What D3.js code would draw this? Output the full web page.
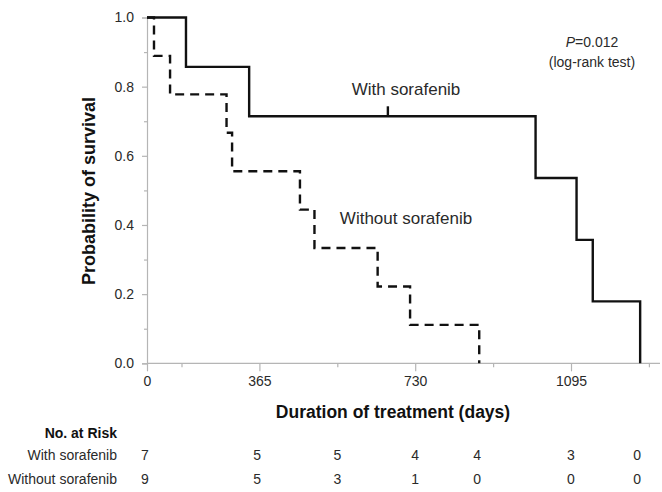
<!DOCTYPE html>
<html>
<head>
<meta charset="utf-8">
<script src="https://cdn.jsdelivr.net/npm/d3@7"></script>
<style>
  body { margin: 0; background: #fff; }
  svg { font-family: Arial, "Liberation Sans", Helvetica, sans-serif; }
</style>
</head>
<body>
<svg width="662" height="492"></svg>
<script>
// Kaplan-Meier data (days, survival)
const withSorafenib = [
    [0, 1], [193, 6 / 7], [341, 5 / 7], [1012, 0.536], [1108, 0.357], [1146, 0.179], [1257, 0]
];
const withoutSorafenib = [
    [0, 1], [37, 8 / 9], [122, 7 / 9], [288, 6 / 9], [301, 5 / 9], [460, 4 / 9],
    [494, 3 / 9], [642, 2 / 9], [718, 1 / 9], [880, 0]
];
const censoredWith = [[666, 5 / 7]];

// axis ticks
const xTicks = [0, 365, 730, 1095];
const xMinorTicks = [182.5, 547.5, 912.5, 1277.5];
const yTicks = [0, 0.2, 0.4, 0.6, 0.8, 1.0];
const yMinorTicks = [0.1, 0.3, 0.5, 0.7, 0.9];

// number at risk table
const riskDays = [0, 360, 547.5, 730, 875, 1095, 1250];
const riskGroups = ['With sorafenib', 'Without sorafenib'];
const riskWith = [7, 5, 5, 4, 4, 3, 0];
const riskWithout = [9, 5, 3, 1, 0, 0, 0];

const svg = d3.select('svg');
const axisColor = '#b5b5b5';
const textColor = '#2a2a2a';

// x scale: the original axis is not uniform before the first minor tick
const pxPerDay = 77.9 / 182.5;
const x = d3.scaleLinear()
    .domain([0, 182.5, 1460])
    .range([147, 181.5, 181.5 + (1460 - 182.5) * pxPerDay]);
const y = d3.scaleLinear().domain([0, 1]).range([363.3, 17.5]);

// y axis
const gy = svg.append('g').attr('transform', `translate(${x(0)},0)`);
gy.call(d3.axisLeft(y).tickValues(yTicks).tickSize(5).tickPadding(8).tickFormat(d3.format('.1f')));
gy.append('g').call(d3.axisLeft(y).tickValues(yMinorTicks).tickSize(3).tickFormat(''))
    .select('.domain').remove();

// x axis
const gx = svg.append('g').attr('transform', `translate(0,${y(0)})`);
gx.call(d3.axisBottom(x).tickValues(xTicks).tickSize(8).tickPadding(5).tickFormat(d3.format('d')));
gx.append('g').call(d3.axisBottom(x).tickValues(xMinorTicks).tickSize(4).tickFormat(''))
    .select('.domain').remove();
gx.select('.domain').attr('d', `M${x(0)},0H660`);

svg.selectAll('.domain, .tick line').attr('stroke', axisColor).attr('stroke-width', 1.2);
svg.selectAll('.tick text')
    .attr('fill', textColor)
    .style('font-size', '14px')
    .style('font-family', 'Arial, "Liberation Sans", sans-serif');

// curves
const line = d3.line()
    .x((d) => x(d[0]))
    .y((d) => y(d[1]))
    .curve(d3.curveStepAfter);

svg.append('path')
    .datum(withoutSorafenib)
    .attr('d', line)
    .attr('fill', 'none')
    .attr('stroke', '#111')
    .attr('stroke-width', 2.4)
    .attr('stroke-dasharray', '9,6');

svg.append('path')
    .datum(withSorafenib)
    .attr('d', line)
    .attr('fill', 'none')
    .attr('stroke', '#111')
    .attr('stroke-width', 2.4);

// censor marks
svg.selectAll('.censor')
    .data(censoredWith)
    .enter()
    .append('line')
    .attr('class', 'censor')
    .attr('x1', (d) => x(d[0]))
    .attr('x2', (d) => x(d[0]))
    .attr('y1', (d) => y(d[1]))
    .attr('y2', (d) => y(d[1]) - 10)
    .attr('stroke', '#111')
    .attr('stroke-width', 2.4);

// curve labels
svg.append('text')
    .attr('x', 406).attr('y', 95)
    .attr('text-anchor', 'middle')
    .attr('fill', textColor)
    .style('font-size', '17px')
    .text('With sorafenib');

svg.append('text')
    .attr('x', 406).attr('y', 224)
    .attr('text-anchor', 'middle')
    .attr('fill', textColor)
    .style('font-size', '17px')
    .text('Without sorafenib');

// p value
const pText = svg.append('text')
    .attr('x', 592).attr('y', 47)
    .attr('text-anchor', 'middle')
    .attr('fill', textColor)
    .style('font-size', '14px');
pText.append('tspan').style('font-style', 'italic').text('P');
pText.append('tspan').text('=0.012');

svg.append('text')
    .attr('x', 592).attr('y', 67)
    .attr('text-anchor', 'middle')
    .attr('fill', textColor)
    .style('font-size', '14px')
    .text('(log-rank test)');

// axis titles
svg.append('text')
    .attr('transform', 'translate(95,191) rotate(-90)')
    .attr('text-anchor', 'middle')
    .attr('fill', '#111')
    .style('font-size', '18px')
    .style('font-weight', 'bold')
    .text('Probability of survival');

svg.append('text')
    .attr('x', 393).attr('y', 418)
    .attr('text-anchor', 'middle')
    .attr('fill', '#111')
    .style('font-size', '17.5px')
    .style('font-weight', 'bold')
    .text('Duration of treatment (days)');

// number at risk
svg.append('text')
    .attr('x', 117).attr('y', 438)
    .attr('text-anchor', 'end')
    .attr('fill', '#111')
    .style('font-size', '14px')
    .style('font-weight', 'bold')
    .text('No. at Risk');

[riskWith, riskWithout].forEach((row, i) => {
    const rowY = 460 + i * 24;
    svg.append('text')
        .attr('x', 117).attr('y', rowY)
        .attr('text-anchor', 'end')
        .attr('fill', textColor)
        .style('font-size', '14px')
        .text(riskGroups[i]);
    svg.selectAll(`.risk-${i}`)
        .data(row)
        .enter()
        .append('text')
        .attr('class', `risk-${i}`)
        .attr('x', (d, j) => (j === 0 ? x(riskDays[j]) - 2 : x(riskDays[j])))
        .attr('y', rowY)
        .attr('text-anchor', 'middle')
        .attr('fill', textColor)
        .style('font-size', '14px')
        .text((d) => d);
});
</script>
</body>
</html>
